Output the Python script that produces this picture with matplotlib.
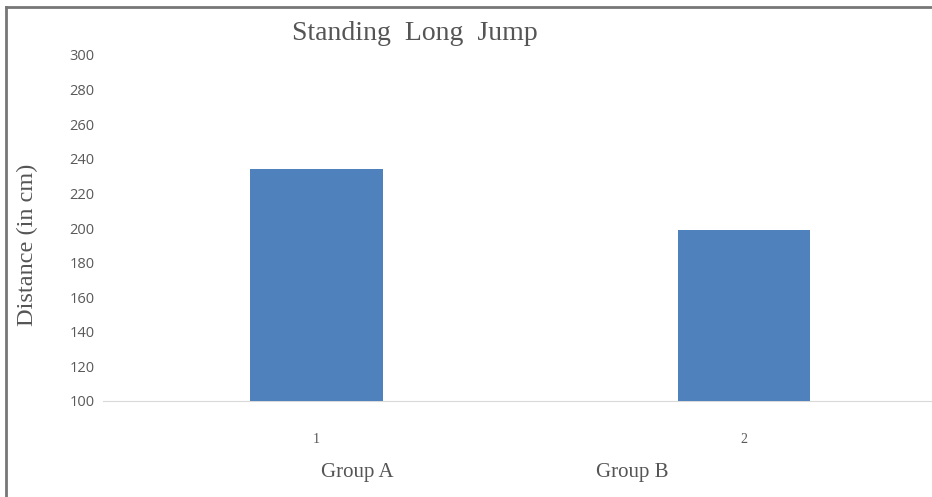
import matplotlib.pyplot as plt
from matplotlib.lines import Line2D

groups = ["1", "2"]
distance = [234, 199]
group_names = ["Group A", "Group B"]
yticks = [100, 120, 140, 160, 180, 200, 220, 240, 260, 280, 300]

fig = plt.figure(figsize=(9.32, 4.97), dpi=100)
W, H = 932, 497
# axes in pixel terms: x 103..932, y 55..401
ax = fig.add_axes([103 / W, (H - 401) / H, (932 - 103) / W, (401 - 55) / H])

x = list(range(len(distance)))
ax.bar(x, distance, width=0.31, color="#4f81bd", zorder=3)
ax.set_ylim(100, 300)
ax.set_xlim(-0.5, 1.44)
ax.set_yticks(yticks)
ax.set_xticks(x)
ax.set_xticklabels(groups, family="Liberation Serif", fontsize=10, color="#595959")
ax.tick_params(axis="y", labelsize=10.5, colors="#595959", length=0, pad=6)
ax.tick_params(axis="x", length=0, pad=23)
for lab in ax.get_yticklabels():
    lab.set_family("Open Sans")
for s in ["top", "right", "left"]:
    ax.spines[s].set_visible(False)
ax.spines["bottom"].set_color("#d9d9d9")

fig.text(415 / W, 1 - 33 / H, "Standing  Long  Jump", ha="center", va="center",
         family="Liberation Serif", fontsize=20, color="#555555")
fig.text(27 / W, 1 - 245 / H, "Distance (in cm)", ha="center", va="center",
         rotation=90, family="Liberation Serif", fontsize=17.5, color="#555555")
fig.text(357 / W, 1 - 472 / H, group_names[0], ha="center", va="center",
         family="Liberation Serif", fontsize=15, color="#555555")
fig.text(632 / W, 1 - 472 / H, group_names[1], ha="center", va="center",
         family="Liberation Serif", fontsize=15, color="#555555")

# frame (top and left edges)
fig.add_artist(Line2D([6 / W, 6 / W], [0, 1 - 7 / H], transform=fig.transFigure,
                      color="#777777", lw=2))
fig.add_artist(Line2D([6 / W, 1], [1 - 7 / H, 1 - 7 / H], transform=fig.transFigure,
                      color="#777777", lw=2))

fig.savefig("out.png", dpi=100)
